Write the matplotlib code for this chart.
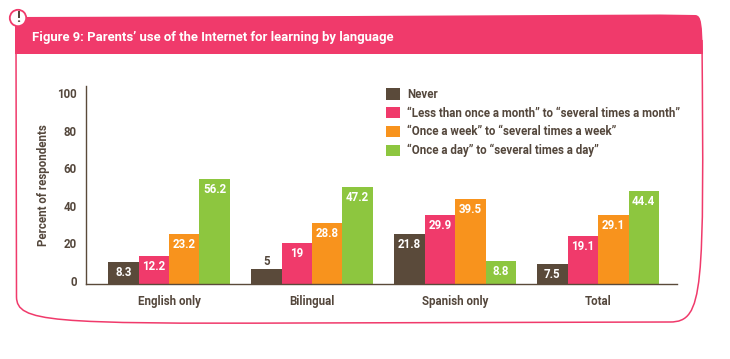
import matplotlib
matplotlib.use("Agg")
import matplotlib.pyplot as plt
import numpy as np
from matplotlib.patches import Circle, PathPatch
from matplotlib.path import Path
from matplotlib.transforms import ScaledTranslation

categories = ["English only", "Bilingual", "Spanish only", "Total"]
series = ["Never",
          "\u201cLess than once a month\u201d to \u201cseveral times a month\u201d",
          "\u201cOnce a week\u201d to \u201cseveral times a week\u201d",
          "\u201cOnce a day\u201d to \u201cseveral times a day\u201d"]

# the drawn bar heights do not agree with the printed labels in the reference, so keep both
never = [11.9, 8.2, 26.8, 10.8]
monthly = [15.1, 22.0, 36.9, 25.7]
weekly = [26.8, 32.7, 45.4, 36.9]
daily = [56.1, 51.8, 12.4, 49.7]

never_labels = ["8.3", "5", "21.8", "7.5"]
monthly_labels = ["12.2", "19", "29.9", "19.1"]
weekly_labels = ["23.2", "28.8", "39.5", "29.1"]
daily_labels = ["56.2", "47.2", "8.8", "44.4"]

yticks = [0, 20, 40, 60, 80, 100]

PINK = "#F03A6B"
BROWN = "#5A4A3A"
TEXT = "#54473C"
colors = [BROWN, PINK, "#F8931D", "#8DC63F"]

plt.rcParams["font.family"] = ["Roboto", "DejaVu Sans"]
plt.rcParams["font.weight"] = "bold"
plt.rcParams["axes.labelweight"] = "bold"

W, H = 730, 359
fig = plt.figure(figsize=(W / 100, H / 100), dpi=100)

# frame and title band, in pixel coordinates
bg = fig.add_axes([0, 0, 1, 1])
bg.set_xlim(0, W)
bg.set_ylim(H, 0)
bg.axis("off")

C4 = Path.CURVE4
M = Path.MOVETO
L = Path.LINETO
frame = Path([(16, 40), (16.5, 297), (17, 322), (50, 324), (300, 323), (670, 322),
              (704, 322), (704, 290), (702, 40)],
             [M, L, C4, C4, L, L, C4, C4, L])
bg.add_patch(PathPatch(frame, fill=False, edgecolor=PINK, linewidth=1.1))
band = Path([(15, 17), (350, 16), (660, 14.5), (695, 15), (702, 15), (702, 25), (703, 54),
             (15, 54), (15, 17)],
            [M, L, L, L, C4, C4, L, L, L])
bg.add_patch(PathPatch(band, facecolor=PINK, edgecolor="none"))
bg.add_patch(Circle((18, 18), 8.2, facecolor="white", edgecolor=PINK, linewidth=1.3, zorder=3))
bg.text(18, 18, "!", color=TEXT, fontsize=10.5, ha="center", va="center", zorder=4)
bg.text(32, 38, "Figure 9: Parents\u2019 use of the Internet for learning by language",
        color="white", fontsize=9.45, ha="left", va="center")

ax = fig.add_axes([85.5 / W, 1 - 284.3 / H, (677 - 85.5) / W, (284.3 - 86) / H])
ax.patch.set_alpha(0)

x = np.arange(len(categories))
width = 0.213
values = [never, monthly, weekly, daily]
labels = [never_labels, monthly_labels, weekly_labels, daily_labels]
for i in range(4):
    pos = x + (i - 1.5) * width
    bars = ax.bar(pos, values[i], width, color=colors[i], label=series[i])
    for rect, lab in zip(bars, labels[i]):
        inside = rect.get_height() > 10
        ax.annotate(lab, (rect.get_x() + rect.get_width() / 2, rect.get_height()),
                    xytext=(0, -7.4 if inside else 5), textcoords="offset points",
                    ha="center", va="center", fontsize=8.3,
                    color="white" if inside else TEXT)

ax.set_xlim(-0.584, 3.552)
ax.set_ylim(0, 105.6)
ax.set_yticks(yticks)
ax.set_xticks(x)
ax.set_xticklabels(categories)
ax.tick_params(axis="both", length=0, labelsize=8.3, labelcolor=TEXT)
ax.tick_params(axis="y", pad=6.3)
ax.tick_params(axis="x", pad=7.5)
# y tick labels sit a little above their true position in the reference
shift = ScaledTranslation(0, 3.3 / 72 * 0.72, fig.dpi_scale_trans)
for tick in ax.get_yticklabels():
    tick.set_transform(tick.get_transform() + shift)

ax.spines["top"].set_visible(False)
ax.spines["right"].set_visible(False)
ax.spines["left"].set_color(BROWN)
ax.spines["bottom"].set_color(BROWN)
ax.spines["left"].set_linewidth(1.0)
ax.spines["bottom"].set_linewidth(1.0)

ax.set_ylabel("Percent of respondents", color=TEXT, fontsize=8.3, va="center")
ax.yaxis.set_label_coords((43 - 85.5) / (677 - 85.5), (284.3 - 185) / (284.3 - 86))

fs = 8.3
px = fs * 100 / 72
ax.legend(loc="upper left", bbox_to_anchor=(386 / W, 1 - 88 / H), bbox_transform=fig.transFigure,
          frameon=False, fontsize=fs, borderpad=0, borderaxespad=0,
          handlelength=14 / px, handleheight=13 / px, handletextpad=7 / px,
          labelspacing=5.7 / px, labelcolor=TEXT)

fig.savefig("out.png", dpi=100)
